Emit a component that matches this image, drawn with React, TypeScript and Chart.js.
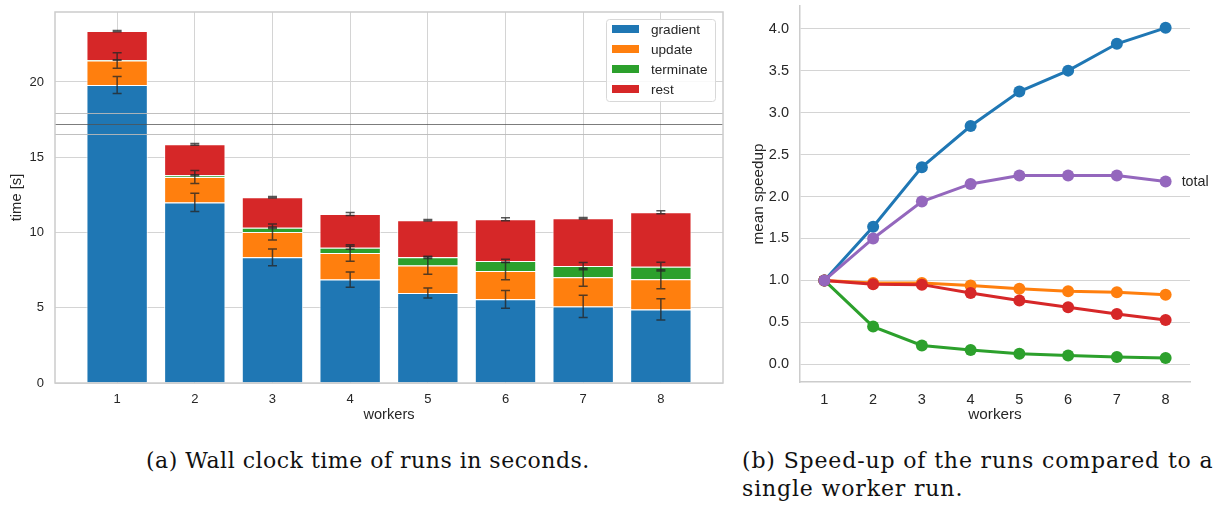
import React, { useEffect, useRef } from "react";
import { Chart, registerables } from "chart.js";

Chart.register(...registerables);

// ---------- data: left chart (wall clock time) ----------
const workers = [1, 2, 3, 4, 5, 6, 7, 8];
const segmentNames = ["gradient", "update", "terminate", "rest"];
const gradientTime = [19.8, 12.0, 8.35, 6.87, 5.98, 5.56, 5.09, 4.89];
const updateTime = [1.63, 1.69, 1.68, 1.77, 1.82, 1.88, 1.93, 2.0];
const terminateTime = [0.03, 0.11, 0.29, 0.35, 0.55, 0.67, 0.75, 0.84];
const restTime = [1.92, 2.06, 2.02, 2.24, 2.46, 2.77, 3.17, 3.61];
const gradientErr = [0.57, 0.6, 0.56, 0.5, 0.33, 0.59, 0.74, 0.71];
const updateErr = [0.52, 0.43, 0.53, 0.55, 0.58, 0.58, 0.6, 0.63];
const terminateErr = [0.02, 0.03, 0.05, 0.1, 0.07, 0.11, 0.24, 0.29];
const restErr = [0.04, 0.06, 0.05, 0.1, 0.05, 0.1, 0.05, 0.1];
const refLineValues = [17.94, 17.2, 16.54];
const timeTicks = [0, 5, 10, 15, 20];

// ---------- data: right chart (speed-up) ----------
const speedupNames = ["gradient", "update", "terminate", "rest", "total"];
const gradientSpeedup = [1.0, 1.64, 2.35, 2.84, 3.25, 3.5, 3.82, 4.01];
const updateSpeedup = [1.0, 0.97, 0.97, 0.94, 0.9, 0.87, 0.86, 0.83];
const terminateSpeedup = [1.0, 0.45, 0.225, 0.17, 0.127, 0.107, 0.087, 0.075];
const restSpeedup = [1.0, 0.956, 0.95, 0.85, 0.76, 0.68, 0.6, 0.53];
const totalSpeedup = [1.0, 1.5, 1.94, 2.15, 2.25, 2.25, 2.25, 2.18];
const speedupTicks = [0, 0.5, 1.0, 1.5, 2.0, 2.5, 3.0, 3.5, 4.0];

const captionA = "(a) Wall clock time of runs in seconds.";
const captionB1 = "(b) Speed-up of the runs compared to a";
const captionB2 = "single worker run.";

const COLORS = ["#1f77b4", "#ff7f0e", "#2ca02c", "#d62728", "#9467bd"];
const TEXT = "#262626";
const FONT = "'Liberation Sans', Arial, sans-serif";

Chart.defaults.font.family = FONT;
Chart.defaults.font.size = 13;
Chart.defaults.color = TEXT;

const noPadY = (w: number) => (s: any) => {
  s.width = w;
  s.paddingTop = 0;
  s.paddingBottom = 0;
};
const noPadX = (h: number) => (s: any) => {
  s.height = h;
  s.paddingLeft = 0;
  s.paddingRight = 0;
};

const barExtras = {
  id: "barExtras",
  afterDatasetsDraw(chart: any) {
    const { ctx, chartArea: a, scales } = chart;
    const x = scales.x;
    const y = scales.y;
    ctx.save();
    // horizontal reference lines
    refLineValues.forEach((v, i) => {
      const py = Math.round(y.getPixelForValue(v)) + 0.5;
      ctx.strokeStyle = i === 1 ? "rgba(80,80,80,0.75)" : "rgba(185,185,185,0.9)";
      ctx.lineWidth = 1.2;
      ctx.beginPath();
      ctx.moveTo(a.left, py);
      ctx.lineTo(a.right, py);
      ctx.stroke();
    });
    // error bars
    const segs = [gradientTime, updateTime, terminateTime, restTime];
    const errs = [gradientErr, updateErr, terminateErr, restErr];
    ctx.strokeStyle = "rgba(38,38,38,0.78)";
    ctx.lineWidth = 1.5;
    workers.forEach((w, j) => {
      let cum = 0;
      segs.forEach((s, i) => {
        cum += s[j];
        const px = x.getPixelForValue(w);
        const t = y.getPixelForValue(cum + errs[i][j]);
        const b = y.getPixelForValue(cum - errs[i][j]);
        ctx.beginPath();
        ctx.moveTo(px, t);
        ctx.lineTo(px, b);
        ctx.moveTo(px - 4.5, t);
        ctx.lineTo(px + 4.5, t);
        ctx.moveTo(px - 4.5, b);
        ctx.lineTo(px + 4.5, b);
        ctx.stroke();
      });
    });
    // frame
    ctx.strokeStyle = "#cccccc";
    ctx.lineWidth = 1.5;
    ctx.strokeRect(a.left, a.top, a.right - a.left, a.bottom - a.top);
    ctx.restore();
  },
  afterDraw(chart: any) {
    const { ctx, chartArea: a } = chart;
    ctx.save();
    const bw = 109;
    const bh = 82;
    const bx = a.right - 8 - bw;
    const by = a.top + 7;
    ctx.fillStyle = "rgba(255,255,255,0.85)";
    ctx.strokeStyle = "#d8d8d8";
    ctx.lineWidth = 1;
    ctx.beginPath();
    ctx.roundRect(bx + 0.5, by + 0.5, bw, bh, 3);
    ctx.fill();
    ctx.stroke();
    ctx.font = `13.6px ${FONT}`;
    ctx.textBaseline = "middle";
    ctx.textAlign = "left";
    segmentNames.forEach((n, i) => {
      const cy = by + 10 + i * 20;
      ctx.fillStyle = COLORS[i];
      ctx.fillRect(bx + 6, cy - 4, 27, 8);
      ctx.fillStyle = TEXT;
      ctx.fillText(n, bx + 45, cy + 1);
    });
    ctx.restore();
  },
};

const totalLabel = {
  id: "totalLabel",
  afterDatasetsDraw(chart: any) {
    const { ctx } = chart;
    const idx = chart.data.datasets.length - 1;
    const meta = chart.getDatasetMeta(idx);
    const pt = meta.data[meta.data.length - 1];
    ctx.save();
    ctx.font = `14.3px ${FONT}`;
    ctx.fillStyle = TEXT;
    ctx.textAlign = "left";
    ctx.textBaseline = "middle";
    ctx.fillText(speedupNames[idx], pt.x + 16, pt.y + 1);
    ctx.restore();
  },
};

function TimeChart() {
  const ref = useRef<HTMLCanvasElement>(null);
  useEffect(() => {
    const segs = [gradientTime, updateTime, terminateTime, restTime];
    const chart = new Chart(ref.current!, {
      type: "bar",
      data: {
        datasets: segs.map((s, i) => ({
          label: segmentNames[i],
          data: workers.map((w, j) => ({ x: w, y: s[j] })),
          backgroundColor: COLORS[i],
          borderColor: "rgba(255,255,255,0.85)",
          borderWidth: 1,
          stack: "a",
          barPercentage: 1,
          categoryPercentage: 0.79,
        })),
      },
      options: {
        responsive: false,
        animation: false,
        layout: { padding: { left: 0, right: 12, top: 12, bottom: 6 } },
        plugins: { legend: { display: false }, tooltip: { enabled: false } },
        scales: {
          x: {
            type: "linear",
            offset: false,
            min: 0.2,
            max: 8.8,
            afterBuildTicks: (s: any) => {
              s.ticks = workers.map((v) => ({ value: v }));
            },
            afterFit: noPadX(41),
            ticks: { padding: 9, callback: (v: any) => String(v) },
            grid: { color: "#d4d4d4", lineWidth: 1, drawTicks: false, offset: false },
            border: { display: false },
            title: { display: true, text: "workers", font: { size: 14.6 }, padding: { top: 0, bottom: 0 } },
          },
          y: {
            stacked: true,
            min: 0,
            max: 24.65,
            afterBuildTicks: (s: any) => {
              s.ticks = timeTicks.map((v) => ({ value: v }));
            },
            afterFit: noPadY(55),
            ticks: { padding: 11, callback: (v: any) => String(v) },
            grid: { color: "#d4d4d4", lineWidth: 1, drawTicks: false },
            border: { display: false },
            title: { display: true, text: "time [s]", font: { size: 14.8 }, padding: { top: 8, bottom: 0 } },
          },
        },
      },
      plugins: [barExtras],
    } as any);
    return () => chart.destroy();
  }, []);
  return <canvas ref={ref} width={735} height={430} style={{ width: 735, height: 430, display: "block" }} />;
}

function SpeedupChart() {
  const ref = useRef<HTMLCanvasElement>(null);
  useEffect(() => {
    const series = [gradientSpeedup, updateSpeedup, terminateSpeedup, restSpeedup, totalSpeedup];
    const drawOrder = [4, 3, 2, 1, 0];
    const chart = new Chart(ref.current!, {
      type: "line",
      data: {
        datasets: series.map((s, i) => ({
          label: speedupNames[i],
          data: workers.map((w, j) => ({ x: w, y: s[j] })),
          borderColor: COLORS[i],
          backgroundColor: COLORS[i],
          pointBackgroundColor: COLORS[i],
          pointBorderWidth: 0,
          pointRadius: 6,
          borderWidth: 3,
          tension: 0,
          order: drawOrder[i],
        })),
      },
      options: {
        responsive: false,
        animation: false,
        layout: { padding: { left: 0, right: 25, top: 4, bottom: 6 } },
        plugins: { legend: { display: false }, tooltip: { enabled: false } },
        scales: {
          x: {
            type: "linear",
            min: 0.5,
            max: 8.5,
            afterBuildTicks: (s: any) => {
              s.ticks = workers.map((v) => ({ value: v }));
            },
            afterFit: noPadX(42),
            ticks: { padding: 9, font: { size: 14.5 }, callback: (v: any) => String(v) },
            grid: { display: false, drawTicks: false },
            border: { display: true, color: "#cccccc", width: 1.5 },
            title: { display: true, text: "workers", font: { size: 15.3 }, padding: { top: 0, bottom: 0 } },
          },
          y: {
            min: -0.21,
            max: 4.27,
            afterBuildTicks: (s: any) => {
              s.ticks = speedupTicks.map((v) => ({ value: v }));
            },
            afterFit: noPadY(65),
            ticks: { padding: 11, font: { size: 14.5 }, callback: (v: any) => Number(v).toFixed(1) },
            grid: { color: "#d4d4d4", lineWidth: 1, drawTicks: false },
            border: { display: true, color: "#cccccc", width: 1.5 },
            title: { display: true, text: "mean speedup", font: { size: 15.3 }, padding: { top: 15, bottom: 0 } },
          },
        },
      },
      plugins: [totalLabel],
    } as any);
    return () => chart.destroy();
  }, []);
  return <canvas ref={ref} width={480} height={430} style={{ width: 480, height: 430, display: "block" }} />;
}

export default function App() {
  const capStyle: React.CSSProperties = {
    position: "absolute",
    fontFamily: "'DejaVu Serif', 'Liberation Serif', serif",
    fontSize: 22,
    letterSpacing: "0.5px",
    color: "#111",
    whiteSpace: "nowrap",
    lineHeight: "28px",
  };
  return (
    <div style={{ position: "absolute", left: 0, top: 0, width: 1215, height: 505, background: "#fff", overflow: "hidden" }}>
      <div style={{ position: "absolute", left: 0, top: 0 }}>
        <TimeChart />
      </div>
      <div style={{ position: "absolute", left: 735, top: 0 }}>
        <SpeedupChart />
      </div>
      <div style={{ ...capStyle, left: 146, top: 447 }}>{captionA}</div>
      <div style={{ ...capStyle, left: 742, top: 447, letterSpacing: "0.85px" }}>
        {captionB1}
        <br />
        {captionB2}
      </div>
    </div>
  );
}
